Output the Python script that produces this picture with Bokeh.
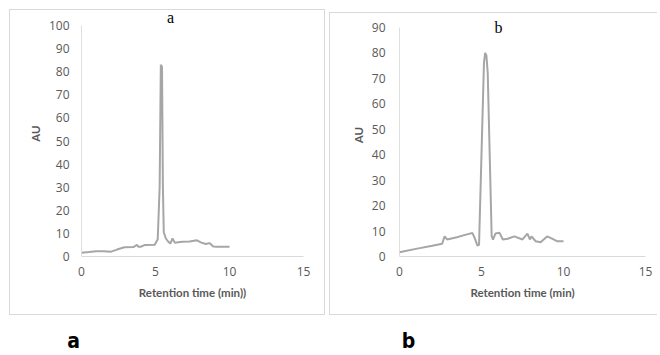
from bokeh.plotting import figure
from bokeh.models import Label, Range1d, FixedTicker, Spacer
from bokeh.layouts import row, column
from bokeh.embed import file_html
from bokeh.resources import INLINE

# ---- data ----
time_a = [0, 0.5, 1.0, 1.5, 2.0, 2.4, 2.9, 3.5, 3.75, 3.85, 4.0, 4.3, 4.95,
          5.15, 5.28, 5.36, 5.44, 5.5, 5.56, 5.7, 5.85, 6.0, 6.15, 6.3, 6.8,
          7.3, 7.8, 8.1, 8.4, 8.65, 8.9, 9.2, 10.0]
au_a = [1.6, 1.9, 2.3, 2.3, 2.1, 3.0, 4.0, 4.1, 5.0, 4.2, 4.2, 5.0, 5.1,
        7.5, 30, 83, 82, 30, 10.5, 7.8, 6.5, 5.6, 7.8, 6.0, 6.4,
        6.5, 7.0, 6.0, 5.4, 5.8, 4.3, 4.2, 4.2]

time_b = [0, 1.0, 2.0, 2.6, 2.75, 2.9, 3.5, 4.0, 4.45, 4.6, 4.75, 4.85,
          5.15, 5.22, 5.3, 5.38, 5.62, 5.7, 5.85, 6.1, 6.3, 6.6, 7.0, 7.5,
          7.8, 7.95, 8.05, 8.3, 8.6, 9.0, 9.3, 9.6, 10.0]
au_b = [1.7, 3.0, 4.2, 5.0, 7.9, 6.7, 7.6, 8.5, 9.2, 7.0, 4.3, 4.6,
        76, 80, 79, 72, 8.0, 6.6, 9.0, 9.3, 6.7, 7.0, 7.9, 6.7,
        9.0, 6.7, 7.9, 6.0, 5.6, 7.9, 7.0, 6.0, 6.0]

x_ticks = [0, 5, 10, 15]
y_ticks_a = [0, 10, 20, 30, 40, 50, 60, 70, 80, 90, 100]
y_ticks_b = [0, 10, 20, 30, 40, 50, 60, 70, 80, 90]

LINE = "#a6a6a6"
TXT = "#595959"
BORDER = "#d9d9d9"


def panel(t, y, yticks, xlabel, title, width, height, mbl, mbr, mbb,
          axis_top_px, ystand, title_xy, styles):
    # frame starts at canvas top; the value range above the top tick is padding
    frame_h = height - mbb
    ymax = yticks[-1]
    y_end = ymax * frame_h / (frame_h - axis_top_px)
    p = figure(width=width, height=height, x_range=Range1d(x_ticks[0], x_ticks[-1]),
               y_range=Range1d(0, y_end), output_backend="svg",
               toolbar_location=None, min_border_left=mbl, min_border_right=mbr,
               min_border_top=0, min_border_bottom=mbb)
    p.styles = styles
    p.line(t, y, line_color=LINE, line_width=2)
    # vertical axis line only up to the top tick
    p.segment(x0=[x_ticks[0]], y0=[yticks[0]], x1=[x_ticks[0]], y1=[yticks[-1]],
              line_color="#bfbfbf", line_width=1)
    p.grid.visible = False
    p.outline_line_color = None
    for ax in (p.xaxis[0], p.yaxis[0]):
        ax.major_tick_line_color = None
        ax.minor_tick_line_color = None
        ax.major_tick_out = 0
        ax.major_tick_in = 0
        ax.minor_tick_out = 0
        ax.major_label_text_font = "Open Sans"
        ax.major_label_text_font_size = "12px"
        ax.major_label_text_color = TXT
        ax.axis_label_text_font = "Lato"
        ax.axis_label_text_font_style = "bold"
        ax.axis_label_text_font_size = "11.5px"
        ax.axis_label_text_color = TXT
    p.xaxis.ticker = FixedTicker(ticks=x_ticks)
    p.yaxis.ticker = FixedTicker(ticks=yticks)
    p.xaxis.axis_line_color = BORDER
    p.yaxis.axis_line_color = None
    p.xaxis.major_label_standoff = 10
    p.yaxis.major_label_standoff = ystand
    p.xaxis.axis_label = xlabel
    p.yaxis.axis_label = "AU"
    p.xaxis.axis_label_standoff = 7
    p.yaxis.axis_label_standoff = 4
    p.add_layout(Label(x=title_xy[0], y=title_xy[1], x_units="screen",
                       y_units="screen", text=title, text_align="center",
                       text_baseline="middle", text_font="Liberation Serif",
                       text_font_size="16px", text_color="black"))
    return p


p1 = panel(time_a, au_a, y_ticks_a, "Retention time (min))", "a",
           316, 306, 71, 23, 60, 15, 12, (89, 239),
           {"border": "1px solid " + BORDER})
p2 = panel(time_b, au_b, y_ticks_b, "Retention time (min)", "b",
           328, 303, 69, 13, 60, 14, 14, (99, 229),
           {"border": "1px solid " + BORDER, "border-right": "none"})

p3 = figure(width=660, height=36, x_range=Range1d(0, 660), y_range=Range1d(0, 36),
            output_backend="svg", toolbar_location=None, min_border=0,
            x_axis_location=None, y_axis_location=None)
p3.grid.visible = False
p3.outline_line_color = None
for txt, xx in (("a", 73), ("b", 408)):
    p3.add_layout(Label(x=xx, y=11, x_units="screen", y_units="screen", text=txt,
                        text_align="center", text_baseline="middle",
                        text_font="DejaVu Sans Condensed", text_font_style="bold",
                        text_font_size="21px", text_color="black"))

top = row(Spacer(width=9), p1, Spacer(width=4),
          column(Spacer(height=3), p2, spacing=0), spacing=0)
layout = column(Spacer(height=9), top, p3, spacing=0)
open("out.html", "w").write(file_html(layout, INLINE))
